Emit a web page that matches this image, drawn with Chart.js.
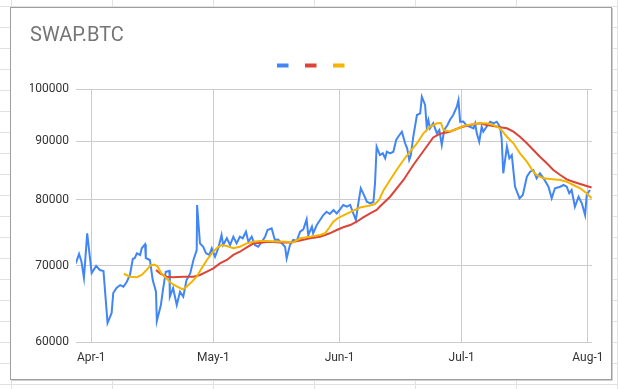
<!DOCTYPE html>
<html>
<head>
<meta charset="utf-8">
<title>SWAP.BTC</title>
<script src="https://cdn.jsdelivr.net/npm/chart.js@4.4.1/dist/chart.umd.min.js"></script>
<style>
  html, body { margin: 0; padding: 0; }
  body {
    width: 618px; height: 389px; position: relative; overflow: hidden; background: #fff;
    background-image: linear-gradient(to right, #e2e2e2 1px, transparent 1px),
                      linear-gradient(to bottom, #e2e2e2 1px, transparent 1px);
    background-size: 101px 21px;
    background-position: 11px 6px;
  }
  #frame {
    position: absolute; left: 10px; top: 7px; width: 600px; height: 371px;
    background: #fff; border: 1px solid #9e9e9e; box-shadow: 1px 1px 0 #d0d0d0;
  }
  #myChart { position: absolute; left: 0; top: 0; }
</style>
</head>
<body>
<div id="frame"></div>
<canvas id="myChart" width="618" height="389"></canvas>
<script>
// days counted from Apr-1
const tickDays = [0, 30, 61, 91, 122];
const tickLabels = ['Apr-1', 'May-1', 'Jun-1', 'Jul-1', 'Aug-1'];
const yTicks = [60000, 70000, 80000, 90000, 100000];

const blueDays = [-3.8, -3.0, -2.4, -1.8, -1.0, 0.1, 1.2, 2.1, 3.0, 4.0,
    5.0, 5.4, 6.2, 7.1, 7.9, 8.7, 9.5, 10.2, 10.7, 11.2,
    12.0, 12.4, 13.2, 13.4, 14.4, 15.1, 15.9, 16.1, 17.1, 17.6,
    18.3, 19.2, 19.3, 20.1, 21.0, 21.8, 22.6, 23.4, 24.3, 25.1,
    25.9, 26.0, 26.7, 27.5, 28.2, 29.0, 29.6, 30.4, 31.2, 32.0,
    32.4, 33.3, 34.1, 34.9, 35.7, 36.5, 37.2, 38.0, 38.6, 39.4,
    40.2, 41.0, 41.9, 42.7, 43.3, 44.3, 45.1, 45.9, 46.8, 47.6,
    48.0, 48.8, 49.6, 50.5, 51.3, 52.1, 52.9, 53.3, 54.2, 54.5,
    55.4, 56.2, 57.0, 57.8, 58.6, 59.5, 60.3, 61.1, 61.9, 62.8,
    63.6, 64.2, 65.0, 65.6, 66.2, 66.8, 67.7, 68.5, 69.3, 69.7,
    70.1, 70.9, 71.6, 72.2, 72.6, 73.4, 74.2, 74.9, 75.4, 76.3,
    77.1, 77.6, 78.1, 78.5, 79.1, 80.0, 80.8, 81.2, 82.0, 82.4,
    82.8, 83.2, 84.0, 84.9, 85.5, 86.1, 86.7, 87.5, 88.1, 88.9,
    89.8, 90.2, 90.6, 91.4, 92.2, 93.0, 93.9, 94.3, 94.7, 95.3,
    95.9, 96.3, 97.1, 98.0, 98.8, 99.6, 100.4, 100.8, 101.2, 102.1,
    102.7, 103.3, 104.1, 105.2, 106.0, 107.0, 107.8, 108.6, 109.4, 110.2,
    111.1, 112.3, 113.1, 113.9, 115.2, 116.0, 116.8, 117.4, 118.0, 118.8,
    119.7, 120.5, 121.3, 121.7, 122.5];
const blueValues = [70370, 71710, 70600, 68350, 74770, 69000, 70000, 69430, 69300, 62380,
    63660, 66280, 66950, 67350, 67120, 67770, 68730, 70990, 71130, 71810,
    71570, 72540, 73120, 71130, 70850, 68040, 66450, 62630, 64690, 66680,
    69190, 69330, 65780, 66950, 64690, 66450, 65780, 68040, 68960, 70850,
    72290, 79170, 73270, 72770, 71810, 71570, 72540, 71320, 72540, 74510,
    73020, 74020, 73020, 74260, 73270, 74260, 74020, 75010, 73510, 74260,
    73020, 72770, 73510, 74260, 75270, 75530, 73770, 73840, 73270, 72770,
    71080, 73020, 73770, 73660, 75010, 75370, 76910, 74510, 75770, 74770,
    76030, 76800, 77580, 78100, 77740, 78370, 77840, 78480, 79170, 78890,
    79170, 78100, 76800, 79440, 81880, 81060, 79700, 79440, 79650, 82710,
    89060, 87570, 87880, 87000, 88160, 87880, 88160, 90270, 90870, 91800,
    89670, 88770, 86700, 87570, 90870, 94940, 95270, 98520, 96880, 92720,
    93990, 92430, 93360, 91500, 92110, 89360, 92110, 93040, 93990, 94940,
    96550, 97860, 93670, 93700, 92950, 92720, 92430, 93360, 91500, 89960,
    92720, 91800, 92720, 93670, 93360, 93670, 92720, 90580, 84400, 89060,
    87000, 87570, 82140, 80240, 80780, 83820, 84670, 84960, 83550, 84400,
    83550, 82140, 80240, 81880, 82140, 82430, 82140, 81060, 81600, 78890,
    80500, 79440, 77580, 80780, 81600];

const redDays = [15.9, 16.9, 18.5, 20.1, 22.6, 25.1, 26.7, 28.4, 30.0, 31.6,
    33.3, 34.9, 36.5, 38.2, 39.8, 41.5, 43.1, 44.7, 46.4, 48.8,
    51.3, 53.7, 56.2, 58.6, 60.3, 61.9, 63.6, 65.2, 66.8, 68.5,
    70.1, 70.9, 73.4, 76.7, 79.1, 81.6, 84.0, 85.7, 88.1, 90.6,
    93.0, 95.5, 97.1, 98.8, 100.4, 102.1, 103.7, 105.3, 107.0, 108.6,
    110.2, 111.9, 113.5, 115.2, 116.8, 118.4, 120.1, 121.7, 122.9];
const redValues = [69440, 68960, 68500, 68420, 68500, 68500, 68730, 69190, 69660, 70370,
    70850, 71570, 72040, 72680, 73240, 73360, 73460, 73460, 73400, 73400,
    73690, 74020, 74260, 74770, 75270, 75680, 76030, 76540, 77220, 77850,
    78370, 78920, 80500, 83270, 85820, 88290, 90730, 91420, 91800, 92580,
    93040, 93360, 93040, 92850, 92620, 92430, 91800, 90870, 89670, 88460,
    87280, 86120, 84960, 84110, 83380, 82980, 82600, 82260, 82010];

const yellowDays = [8.0, 9.5, 11.2, 12.4, 13.6, 14.5, 15.4, 16.2, 17.1, 18.4,
    19.6, 21.0, 22.5, 23.4, 24.7, 25.9, 27.1, 28.4, 29.6, 30.8,
    32.0, 33.3, 34.9, 36.5, 38.2, 39.8, 41.5, 43.1, 45.6, 48.0,
    49.6, 51.3, 53.7, 56.2, 57.4, 58.4, 59.4, 60.6, 61.8, 63.6,
    66.0, 68.5, 69.7, 70.7, 71.7, 73.4, 75.0, 76.7, 78.3, 80.0,
    81.6, 83.2, 84.9, 85.9, 86.5, 88.1, 89.8, 91.4, 93.9, 95.5,
    97.1, 98.8, 100.4, 102.1, 103.7, 105.3, 107.0, 108.6, 109.4, 111.1,
    112.7, 115.2, 116.8, 118.4, 120.1, 121.7, 122.9];
const yellowValues = [68910, 68500, 68420, 68730, 69440, 70050, 70200, 69990, 69070, 68310,
    67630, 67180, 66770, 67120, 67810, 68500, 69660, 70850, 71810, 72540,
    73020, 72880, 72540, 72770, 73270, 73510, 73620, 73620, 73560, 73510,
    73400, 74020, 74260, 74510, 74770, 75570, 76490, 77110, 77500, 78050,
    78770, 79080, 79320, 79970, 81430, 83270, 84960, 86700, 88160, 89670,
    91500, 92720, 93360, 93420, 92110, 91840, 92290, 92860, 93240, 93360,
    93360, 93040, 92430, 90870, 89670, 87880, 86400, 84670, 84110, 83550,
    83430, 83270, 82980, 82430, 81880, 81060, 80240];

const toPoints = (days, values) => days.map((d, i) => ({x: d, y: values[i]}));

Chart.defaults.font.family = 'Roboto';

const config = {
    type: 'line',
    data: {
        datasets: [
            {
                label: '',
                data: toPoints(blueDays, blueValues),
                borderColor: '#4285f4',
                backgroundColor: '#4285f4',
                borderWidth: 2,
                pointRadius: 0,
                order: 3,
            },
            {
                label: '',
                data: toPoints(redDays, redValues),
                borderColor: '#db4437',
                backgroundColor: '#db4437',
                borderWidth: 2,
                pointRadius: 0,
                order: 2,
            },
            {
                label: '',
                data: toPoints(yellowDays, yellowValues),
                borderColor: '#f4b400',
                backgroundColor: '#f4b400',
                borderWidth: 2,
                pointRadius: 0,
                order: 1,
            }
        ]
    },
    options: {
        responsive: false,
        animation: false,
        layout: {
            padding: {left: 30, right: 26, top: 0, bottom: 0}
        },
        plugins: {
            title: {
                display: true,
                text: 'SWAP.BTC',
                align: 'start',
                color: '#757575',
                font: {size: 20, weight: 'normal'},
                padding: {top: 23.5, bottom: 0}
            },
            // empty spacer between legend and plot
            subtitle: {
                display: true,
                text: '',
                weight: 500,
                font: {size: 1, lineHeight: 1},
                padding: {top: 10.8, bottom: 0}
            },
            legend: {
                position: 'top',
                labels: {
                    boxWidth: 11.5,
                    boxHeight: 4,
                    padding: 16,
                    font: {size: 1},
                    generateLabels: chart => chart.data.datasets.map((ds, i) => ({
                        text: '',
                        fillStyle: ds.borderColor,
                        strokeStyle: ds.borderColor,
                        lineWidth: 0,
                        hidden: false,
                        datasetIndex: i
                    }))
                }
            },
            tooltip: {enabled: false}
        },
        scales: {
            x: {
                type: 'linear',
                min: -3.75,
                max: 123,
                afterBuildTicks: scale => {
                    scale.ticks = tickDays.map(v => ({value: v}));
                },
                afterFit: scale => {
                    scale.height = 46.7;
                },
                ticks: {
                    padding: 8,
                    color: '#333',
                    font: {size: 12},
                    maxRotation: 0,
                    callback: value => tickLabels[tickDays.indexOf(value)]
                },
                grid: {color: '#cccccc', drawTicks: false},
                border: {display: false}
            },
            y: {
                type: 'logarithmic',
                min: 60000,
                max: 100000,
                afterBuildTicks: scale => {
                    scale.ticks = yTicks.map(v => ({value: v}));
                },
                afterFit: scale => {
                    scale.width = 46;
                },
                ticks: {
                    padding: 7,
                    color: '#333',
                    font: {size: 12},
                    callback: value => String(value)
                },
                grid: {color: '#cccccc', drawTicks: false},
                border: {display: false}
            }
        }
    }
};

const chart = new Chart(document.getElementById('myChart'), config);
</script>
</body>
</html>
